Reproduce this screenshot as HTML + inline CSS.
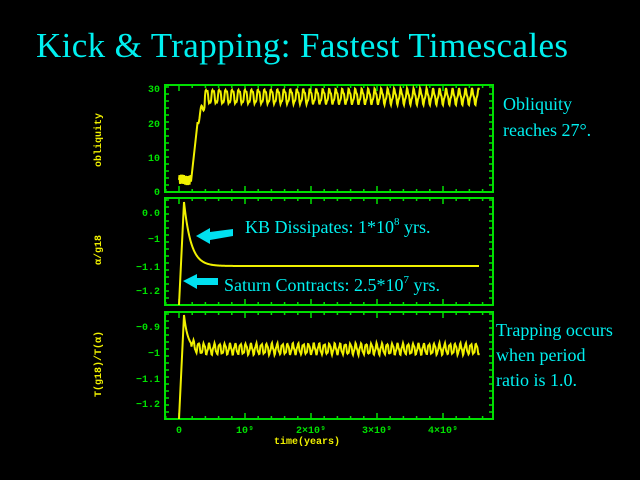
<!DOCTYPE html>
<html><head><meta charset="utf-8"><style>
html,body{margin:0;padding:0;background:#000;width:640px;height:480px;overflow:hidden}
svg{display:block}
.t{font-family:"Liberation Serif",serif;fill:#00f0f0}
.m{font-family:"Liberation Mono",monospace;fill:#00e000;font-size:10px;font-weight:bold}
.y{font-family:"Liberation Mono",monospace;fill:#f0f000;font-size:10px;font-weight:bold}
</style></head><body>
<svg id="s" width="640" height="480" xmlns="http://www.w3.org/2000/svg">
<text class="t" x="36" y="57" font-size="35" textLength="532">Kick &amp; Trapping: Fastest Timescales</text>
<g fill="none" stroke="#00e000" stroke-width="2">
<rect x="165" y="85" width="328" height="107"/>
<rect x="165" y="198" width="328" height="107"/>
<rect x="165" y="312" width="328" height="107"/>
</g>
<g id="ticks" stroke="#00e000" stroke-width="1.5"></g>
<g id="lines" fill="none" stroke="#f0f000" stroke-width="2"></g>
<g class="m" text-anchor="end">
<text x="160" y="92">30</text><text x="160" y="127">20</text><text x="160" y="161">10</text>
<text x="160" y="195">0</text>
<text x="160" y="216">0.0</text><text x="160" y="242">−1</text><text x="160" y="270">−1.1</text><text x="160" y="294">−1.2</text>
<text x="160" y="330">−0.9</text><text x="160" y="356">−1</text><text x="160" y="382">−1.1</text><text x="160" y="407">−1.2</text>
</g>
<g class="m" text-anchor="middle">
<text x="179" y="433">0</text><text x="245" y="433">10⁹</text><text x="311" y="433">2×10⁹</text><text x="377" y="433">3×10⁹</text><text x="443" y="433">4×10⁹</text>
</g>
<text class="y" x="307" y="444" text-anchor="middle">time(years)</text>
<text class="y" transform="translate(101,140) rotate(-90)" text-anchor="middle">obliquity</text>
<text class="y" transform="translate(101,250) rotate(-90)" text-anchor="middle">α/g18</text>
<text class="y" transform="translate(101,364) rotate(-90)" text-anchor="middle">T(g18)/T(α)</text>
<g class="t" font-size="18">
<text x="503" y="110">Obliquity</text><text x="503" y="136">reaches 27°.</text>
<text x="496" y="336">Trapping occurs</text><text x="496" y="361">when period</text><text x="496" y="386">ratio is 1.0.</text>
<text x="245" y="233">KB Dissipates: 1*10<tspan font-size="11" dy="-8">8</tspan><tspan dy="8"> yrs.</tspan></text>
<text x="224" y="291">Saturn Contracts: 2.5*10<tspan font-size="11" dy="-8">7</tspan><tspan dy="8"> yrs.</tspan></text>
</g>
<g fill="#00e0f0">
<polygon points="196,236 210,228 210,232 233,229 233,236 210,240 210,244"/>
<polygon points="183,281 197,274 197,278 218,278 218,285 197,285 197,289"/>
</g>
</svg>
<script>
var tk=document.getElementById('ticks'),ln=document.getElementById('lines'),ns='http://www.w3.org/2000/svg';
function L(a,b,c,d){var e=document.createElementNS(ns,'line');e.setAttribute('x1',a);e.setAttribute('y1',b);e.setAttribute('x2',c);e.setAttribute('y2',d);tk.appendChild(e);}
[[85,192],[198,305],[312,419]].forEach(function(p){
 for(var x=179-13.2;x<493;x+=13.2){var r=((x-179)/66)%1;var big=Math.abs(r)<0.05||Math.abs(r)>0.95;var h=big?6:3;L(x,p[0],x,p[0]+h);L(x,p[1],x,p[1]-h);}
 for(var y=p[1]-7;y>p[0];y-=7){L(165,y,169,y);L(493,y,489,y);}
});
function P(pts){var e=document.createElementNS(ns,'polyline');e.setAttribute('points',pts.join(' '));ln.appendChild(e);}
var a=[],b=[],c=[];
for(var x=179;x<=479;x+=0.5){
 var t=x-179,o;
 if(t<12)o=3.5+1.5*Math.sin(t*4);
 else if(t<19)o=3+(t-12)*2.6;
 else if(t<26)o=21+(t-19)*0.7+1.5*Math.sin(t*1.2);
 else o=27.5+2*Math.sin(t*0.97)+0.5*Math.sin(t*2.9);
 a.push(x+','+(192-o*3.47));
 var y2=t<5?305-(t/5)*103:266-64*Math.exp(-(t-5)/7);
 b.push(x+','+y2);
 var d=t<5?419-(t/5)*104:349-34*Math.exp(-(t-5)/4)+(t>12?5*Math.sin(t*1.2)+1.2*Math.sin(t*3.3):0);
 c.push(x+','+d);
}
P(a);P(b);P(c);
</script>
</body></html>
